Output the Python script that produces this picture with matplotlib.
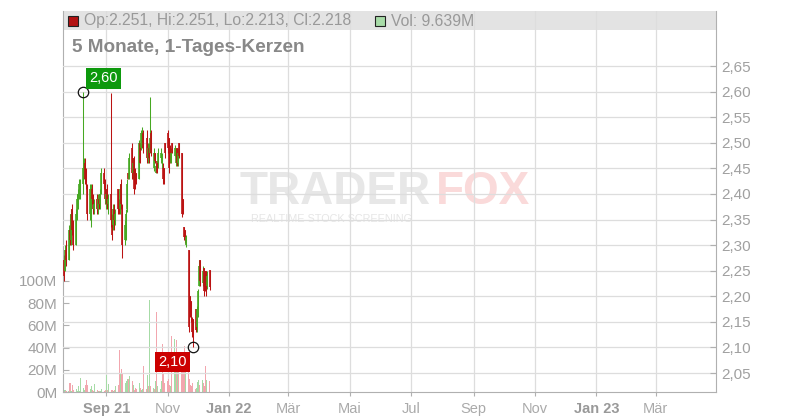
import matplotlib
matplotlib.use("Agg")
import matplotlib.pyplot as plt
import matplotlib.dates as mdates
from matplotlib.patches import Rectangle
import pandas as pd
import numpy as np

plt.rcParams['font.family'] = ['Liberation Sans', 'DejaVu Sans']

# ---------------- data ----------------
dates = pd.bdate_range('2021-07-21', '2021-12-13')  # 104 daily candles

opens = [
    2.27, 2.25, 2.29, 2.27, 2.33, 2.31, 2.37, 2.34, 2.30, 2.36,
    2.39, 2.40, 2.41, 2.42, 2.44, 2.46, 2.44, 2.41, 2.36, 2.38,
    2.41, 2.39, 2.37, 2.39, 2.37, 2.39, 2.38, 2.40, 2.44, 2.42,
    2.38, 2.41, 2.38, 2.40, 2.35, 2.34, 2.37, 2.35, 2.41, 2.38,
    2.37, 2.42, 2.37, 2.31, 2.33, 2.37, 2.44, 2.43, 2.49, 2.44,
    2.47, 2.44, 2.44, 2.43, 2.50, 2.49, 2.50, 2.52, 2.51, 2.47,
    2.49, 2.48, 2.52, 2.45, 2.48, 2.44, 2.465, 2.46, 2.47, 2.46,
    2.45, 2.45, 2.50, 2.52, 2.51, 2.49, 2.46, 2.50, 2.475, 2.46,
    2.49, 2.46, 2.50, 2.48, 2.39, 2.335, 2.33, 2.30, 2.29, 2.20,
    2.19, 2.155, 2.155, 2.175, 2.14, 2.16, 2.22, 2.27, 2.225, 2.255,
    2.25, 2.25, 2.22, 2.251]
highs = [
    2.28, 2.30, 2.31, 2.34, 2.36, 2.37, 2.38, 2.35, 2.37, 2.40,
    2.41, 2.43, 2.43, 2.60, 2.47, 2.47, 2.45, 2.42, 2.42, 2.42,
    2.42, 2.40, 2.39, 2.40, 2.40, 2.40, 2.41, 2.45, 2.45, 2.43,
    2.41, 2.42, 2.40, 2.598, 2.36, 2.38, 2.38, 2.37, 2.41, 2.39,
    2.42, 2.43, 2.38, 2.35, 2.37, 2.43, 2.44, 2.48, 2.50, 2.47,
    2.475, 2.45, 2.44, 2.505, 2.50, 2.525, 2.53, 2.525, 2.525, 2.50,
    2.50, 2.59, 2.525, 2.49, 2.48, 2.46, 2.465, 2.49, 2.49, 2.48,
    2.46, 2.45, 2.50, 2.525, 2.51, 2.495, 2.49, 2.50, 2.495, 2.49,
    2.49, 2.49, 2.50, 2.48, 2.39, 2.335, 2.33, 2.32, 2.29, 2.20,
    2.19, 2.16, 2.155, 2.175, 2.18, 2.215, 2.27, 2.27, 2.26, 2.255,
    2.25, 2.25, 2.25, 2.251]
lows = [
    2.23, 2.25, 2.26, 2.27, 2.30, 2.30, 2.32, 2.29, 2.30, 2.35,
    2.37, 2.39, 2.39, 2.40, 2.43, 2.42, 2.41, 2.35, 2.35, 2.335,
    2.38, 2.36, 2.36, 2.36, 2.36, 2.37, 2.37, 2.40, 2.41, 2.38,
    2.37, 2.37, 2.36, 2.335, 2.31, 2.33, 2.33, 2.34, 2.36, 2.36,
    2.36, 2.37, 2.275, 2.30, 2.31, 2.365, 2.43, 2.43, 2.43, 2.43,
    2.40, 2.41, 2.42, 2.43, 2.46, 2.485, 2.49, 2.48, 2.46, 2.46,
    2.46, 2.48, 2.475, 2.445, 2.46, 2.44, 2.44, 2.45, 2.46, 2.45,
    2.42, 2.42, 2.47, 2.48, 2.44, 2.46, 2.46, 2.48, 2.475, 2.455,
    2.455, 2.455, 2.47, 2.355, 2.36, 2.31, 2.305, 2.296, 2.13, 2.16,
    2.15, 2.12, 2.10, 2.13, 2.13, 2.16, 2.22, 2.22, 2.22, 2.20,
    2.21, 2.20, 2.215, 2.213]
closes = [
    2.24, 2.29, 2.27, 2.33, 2.31, 2.36, 2.33, 2.30, 2.36, 2.39,
    2.40, 2.42, 2.42, 2.45, 2.46, 2.43, 2.42, 2.36, 2.41, 2.40,
    2.39, 2.37, 2.38, 2.37, 2.39, 2.38, 2.40, 2.44, 2.42, 2.39,
    2.40, 2.38, 2.39, 2.35, 2.32, 2.37, 2.35, 2.36, 2.37, 2.365,
    2.41, 2.38, 2.30, 2.34, 2.36, 2.42, 2.43, 2.47, 2.44, 2.46,
    2.41, 2.42, 2.42, 2.50, 2.46, 2.52, 2.52, 2.49, 2.47, 2.49,
    2.47, 2.51, 2.48, 2.48, 2.465, 2.455, 2.44, 2.48, 2.48, 2.475,
    2.43, 2.425, 2.48, 2.49, 2.45, 2.47, 2.48, 2.48, 2.49, 2.485,
    2.46, 2.48, 2.475, 2.36, 2.365, 2.315, 2.31, 2.315, 2.14, 2.165,
    2.16, 2.13, 2.13, 2.135, 2.175, 2.21, 2.26, 2.23, 2.25, 2.21,
    2.22, 2.21, 2.24, 2.218]
volumes_m = [
    2, 2, 1, 1, 8, 1, 6, 2, 3, 1,
    5, 1, 13, 4, 2, 6, 11, 6, 3, 5,
    2, 1, 7, 2, 1, 1, 1, 3, 1, 2,
    15, 2, 7, 2, 2, 1, 2, 5, 6, 38,
    16, 21, 17, 8, 10, 12, 12, 14, 10, 6,
    2, 4, 3, 8, 4, 2, 3, 23, 3, 15,
    5, 83, 5, 4, 3, 10, 72, 5, 3, 10,
    43, 17, 8, 10, 12, 6, 5, 50, 48, 20,
    47, 30, 28, 35, 23, 18, 41, 30, 25, 12,
    6, 5, 8, 3, 4, 9, 11, 6, 11, 8,
    5, 23, 11, 9.639]

price_ticks = [2.05, 2.10, 2.15, 2.20, 2.25, 2.30, 2.35, 2.40, 2.45, 2.50, 2.55, 2.60, 2.65]
vol_ticks = [0, 20, 40, 60, 80, 100]
xtick_dates = ['2021-09-01', '2021-11-01', '2022-01-01', '2022-03-01', '2022-05-01',
               '2022-07-01', '2022-09-01', '2022-11-01', '2023-01-01', '2023-03-01']
xtick_labels = ['Sep 21', 'Nov', 'Jan 22', 'Mär', 'Mai', 'Jul', 'Sep', 'Nov', 'Jan 23', 'Mär']
xtick_bold = [True, False, True, False, False, False, False, False, True, False]
title = '5 Monate, 1-Tages-Kerzen'

# ---------------- style ----------------
RED = '#bb1313'
GREEN = '#46a822'
VRED = '#f2a6ae'
VGREEN = '#a6dba6'
GRID = '#dddddd'
SPINE = '#b0b0b0'
TXT = '#a0a0a0'

W, H = 800, 420
fig = plt.figure(figsize=(W / 100, H / 100), dpi=100)
fig.patch.set_facecolor('white')
L, R, T, B = 63, 716, 11, 392
ax = fig.add_axes([L / W, 1 - B / H, (R - L) / W, (B - T) / H])
ax2 = ax.twinx()

x = mdates.date2num(dates.to_pydatetime())
o = np.array(opens); h = np.array(highs); lo = np.array(lows); c = np.array(closes)
up = c >= o
ccol = np.where(up, GREEN, RED)
vcol = np.where(up, VGREEN, VRED)

# volume
ax.bar(x, volumes_m, width=1.1, color=vcol, zorder=2, linewidth=0)
ax.set_ylim(0, 343.2)
ax.set_yticks(vol_ticks)
ax.set_yticklabels([f'{v}M' for v in vol_ticks])

# candles
ax2.vlines(x, lo, h, colors=ccol, linewidth=0.75, zorder=3)
ax2.vlines(x, np.minimum(o, c), np.maximum(o, c), colors=ccol, linewidth=1.2, zorder=3)
ax2.set_ylim(2.0129, 2.7575)
ax2.set_yticks(price_ticks)
ax2.set_yticklabels([f'{p:.2f}'.replace('.', ',') for p in price_ticks])

# x axis
ax.set_xlim(mdates.date2num(pd.Timestamp('2021-07-20')), mdates.date2num(pd.Timestamp('2023-04-30')))
xt = mdates.date2num(pd.to_datetime(xtick_dates).to_pydatetime())
ax.set_xticks(xt)
ax.set_xticklabels(xtick_labels)
for lab, b in zip(ax.get_xticklabels(), xtick_bold):
    lab.set_fontweight('bold' if b else 'normal')
    lab.set_color('#999999' if b else '#aaaaaa')

# grids
ax.set_axisbelow(True)
ax2.set_axisbelow(True)
ax.xaxis.grid(True, color=GRID, linewidth=0.9)
ax.yaxis.grid(False)
ax2.yaxis.grid(True, color=GRID, linewidth=0.9)
ax2.xaxis.grid(False)

# spines / ticks
ax.spines['top'].set_visible(False)
ax2.spines['top'].set_visible(False)
ax.spines['right'].set_visible(False)
ax2.spines['left'].set_visible(False)
ax2.spines['bottom'].set_visible(False)
ax.spines['left'].set_color(SPINE)
ax.spines['bottom'].set_color(SPINE)
ax2.spines['right'].set_color(SPINE)
ax.tick_params(axis='y', direction='in', length=4, color=SPINE, labelcolor=TXT, labelsize=11, pad=4)
ax.tick_params(axis='x', direction='out', length=3, color=SPINE, labelsize=10.5, pad=4)
ax2.tick_params(axis='y', direction='in', length=4, color=SPINE, labelcolor=TXT, labelsize=11, pad=4)

# legend bar (behind grid)
bar_h = 19 / (B - T)
ax.add_patch(Rectangle((0, 1 - bar_h), 1, bar_h, transform=ax.transAxes,
                       facecolor='#e3e3e3', edgecolor='none', zorder=0.2, clip_on=False))

# watermark
ax.text(240 / W, 1 - 192 / H, 'TRADER', transform=fig.transFigure, fontsize=33,
        fontweight='bold', color='#e7e7e7', ha='left', va='center', zorder=0.1)
ax.text(436 / W, 1 - 192 / H, 'FOX', transform=fig.transFigure, fontsize=33,
        fontweight='bold', color='#fadada', ha='left', va='center', zorder=0.1)
ax.text(251 / W, 1 - 219 / H, 'REALTIME STOCK SCREENING', transform=fig.transFigure,
        fontsize=7.8, color='#e6e6e6', ha='left', va='center', zorder=0.1)

# legend entries
fig.add_artist(Rectangle((68 / W, 1 - 26 / H), 10 / W, 10 / H, transform=fig.transFigure,
                         facecolor='#b31212', edgecolor='#222222', linewidth=0.8))
fig.text(84 / W, 1 - 21 / H,
         f'Op:{opens[-1]:.3f}, Hi:{highs[-1]:.3f}, Lo:{lows[-1]:.3f}, Cl:{closes[-1]:.3f}',
         fontsize=11.3, color='#999999', va='center', ha='left')
fig.add_artist(Rectangle((375 / W, 1 - 26 / H), 10 / W, 10 / H, transform=fig.transFigure,
                         facecolor='#a8dca8', edgecolor='#222222', linewidth=0.8))
fig.text(391 / W, 1 - 21 / H, f'Vol: {volumes_m[-1]:.3f}M',
         fontsize=11.3, color='#999999', va='center', ha='left')

# title
fig.text(72 / W, 1 - 47 / H, title, fontsize=13.7, fontweight='bold', color='#888888',
         va='center', ha='left')

# max / min markers
imax = int(np.argmax(h))
imin = int(np.argmin(lo))
ax2.plot([x[imax]], [h[imax]], 'o', mfc='none', mec='#111111', ms=7.5, mew=0.9, zorder=5)
ax2.plot([x[imin]], [lo[imin]], 'o', mfc='none', mec='#111111', ms=7.5, mew=0.9, zorder=5)
ax2.annotate(f'{h[imax]:.2f}'.replace('.', ','), xy=(x[imax], h[imax]), xytext=(14.5, 9.5),
             textcoords='offset points', ha='center', va='center', color='white', fontsize=10.5,
             bbox=dict(boxstyle='square,pad=0.22', fc='#0d990d', ec='none'), zorder=6)
ax2.annotate(f'{lo[imin]:.2f}'.replace('.', ','), xy=(x[imin], lo[imin]), xytext=(-14.5, -10.5),
             textcoords='offset points', ha='center', va='center', color='white', fontsize=10.5,
             bbox=dict(boxstyle='square,pad=0.22', fc='#cc0000', ec='none'), zorder=6)

fig.savefig('out.png', dpi=100, facecolor='white')
